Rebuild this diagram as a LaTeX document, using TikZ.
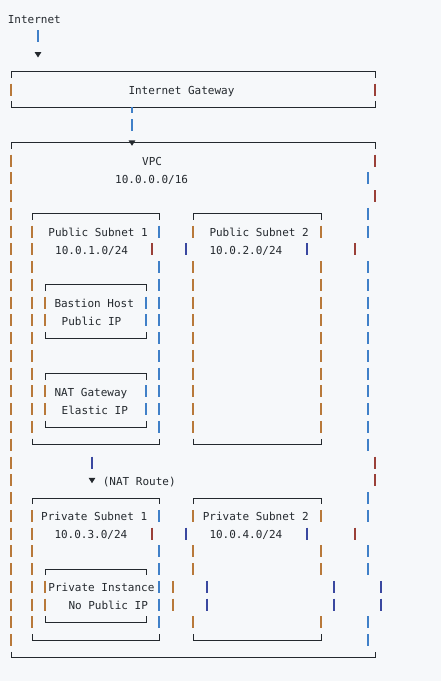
\documentclass[tikz,border=0pt]{standalone}
\usepackage{fontspec}
\setmonofont{DejaVu Sans Mono}
\usepackage{xcolor}
\usetikzlibrary{arrows.meta}

\definecolor{bgc}{HTML}{F6F8FA}
\definecolor{inkc}{HTML}{24292E}
\definecolor{barO}{HTML}{B8793A}
\definecolor{barB}{HTML}{4080C8}
\definecolor{barR}{HTML}{9A4038}
\definecolor{barN}{HTML}{3A48A0}

% row centre and text baseline of ascii line #1
\newcommand{\ry}[1]{18.5+17.76*(#1-1)}
\newcommand{\tb}[1]{18.5+17.76*(#1-1)+4.8}
% one side bar of a box on a given row
\newcommand{\barat}[3][barO]{\draw[seg,#1] (#2,{\ry{#3}-6}) -- (#2,{\ry{#3}+6});}
\newcommand{\boxtop}[3]{\draw[edge] (#1,{\ry{#3}+6}) -- (#1,{\ry{#3}}) -- (#2,{\ry{#3}}) -- (#2,{\ry{#3}+6});}
\newcommand{\boxbot}[3]{\draw[edge] (#1,{\ry{#3}-6}) -- (#1,{\ry{#3}}) -- (#2,{\ry{#3}}) -- (#2,{\ry{#3}-6});}

\begin{document}
\begin{tikzpicture}[x=1pt,y=-1pt,
    txt/.style={font=\ttfamily\fontsize{11}{13}\selectfont, text=inkc,
        anchor=base west, inner sep=0pt},
    edge/.style={draw=inkc, line width=0.9pt},
    seg/.style={line width=1.8pt},
    flow/.style={line width=1.6pt,
        -{Triangle[length=5.5pt,width=6.5pt,color=inkc]}}]
    \fill[bgc] (0,0) rectangle (441,681);
    \useasboundingbox (0,0) rectangle (441,681);

    % labels
    \node[txt] (internet) at (7.6,{\tb{1}}) {Internet};
    \node[txt] (gwlbl) at (128.3,{\tb{5}}) {Internet Gateway};
    \node[txt] (vpclbl) at (142,{\tb{9}}) {VPC};
    \node[txt] (vpccidr) at (115,{\tb{10}}) {10.0.0.0/16};
    \node[txt] (pub1lbl) at (48.3,{\tb{13}}) {Public Subnet 1};
    \node[txt] (pub1cidr) at (55,{\tb{14}}) {10.0.1.0/24};
    \node[txt] (pub2lbl) at (209.3,{\tb{13}}) {Public Subnet 2};
    \node[txt] (pub2cidr) at (209.3,{\tb{14}}) {10.0.2.0/24};
    \node[txt] (bastion) at (54.3,{\tb{17}}) {Bastion Host};
    \node[txt] (bastionip) at (61.5,{\tb{18}}) {Public IP};
    \node[txt] (natgw) at (54.3,{\tb{22}}) {NAT Gateway};
    \node[txt] (natip) at (61.5,{\tb{23}}) {Elastic IP};
    \node[txt] (natroute) at (102.6,{\tb{27}}) {(NAT Route)};
    \node[txt] (priv1lbl) at (41,{\tb{29}}) {Private Subnet 1};
    \node[txt] (priv1cidr) at (54.3,{\tb{30}}) {10.0.3.0/24};
    \node[txt] (priv2lbl) at (202.6,{\tb{29}}) {Private Subnet 2};
    \node[txt] (priv2cidr) at (209.3,{\tb{30}}) {10.0.4.0/24};
    \node[txt] (instance) at (48.3,{\tb{33}}) {Private Instance};
    \node[txt] (instanceip) at (68.3,{\tb{34}}) {No Public IP};

    % box tops and bottoms
    \boxtop{11}{375}{4}      \boxbot{11}{375}{6}
    \boxtop{11}{375}{8}      \boxbot{11}{375}{37}
    \boxtop{32}{159}{12}     \boxbot{32}{159}{25}
    \boxtop{193}{321}{12}    \boxbot{193}{321}{25}
    \boxtop{45}{146}{16}     \boxbot{45}{146}{19}
    \boxtop{45}{146}{21}     \boxbot{45}{146}{24}
    \boxtop{32}{159}{28}     \boxbot{32}{159}{36}
    \boxtop{193}{321}{28}    \boxbot{193}{321}{36}
    \boxtop{45}{146}{32}     \boxbot{45}{146}{35}

    % gateway sides
    \barat{11}{5}
    \barat[barR]{375}{5}

    % vpc sides
    \foreach \n in {9,...,36} {\barat{11}{\n}}
    \foreach \n in {9,11,26,27} {\barat[barR]{375}{\n}}
    \foreach \n in {10,12,13,35,36,28,29,31,32} {\barat[barB]{368}{\n}}
    \foreach \n in {15,...,25} {\barat[barB]{368}{\n}}
    \foreach \n in {14,30} {\barat[barR]{355}{\n}}
    \foreach \n in {33,34} {\barat[barN]{381}{\n}}

    % subnet sides
    \foreach \n in {13,...,24} {\barat{32}{\n}}
    \foreach \n in {29,...,35} {\barat{32}{\n}}
    \foreach \n in {13,15,16,17,18,19,20,21,22,23,24,29,31,32,35} {
        \barat[barB]{159}{\n}
        \barat{193}{\n}
        \barat{321}{\n}
    }
    \foreach \n in {14,30} {
        \barat[barR]{152}{\n}
        \barat[barN]{186}{\n}
        \barat[barN]{307}{\n}
    }
    \foreach \n in {33,34} {
        \barat{173}{\n}
        \barat[barN]{207}{\n}
        \barat[barN]{334}{\n}
    }

    % host box sides
    \foreach \n in {17,18,22,23,33,34} {\barat{45}{\n}}
    \foreach \n in {17,18,22,23} {\barat[barB]{146}{\n}}
    \foreach \n in {33,34} {\barat[barB]{159}{\n}}

    % traffic arrows
    \coordinate (inetout) at (38,{\ry{2}-6});
    \coordinate (gwin) at (38,{\ry{3}+3.5});
    \coordinate (gwout) at (132,{\ry{6}});
    \coordinate (vpcin) at (132,{\ry{8}+3});
    \coordinate (natout) at (92,{\ry{26}-6});
    \coordinate (privin) at (92,{\ry{27}+3});
    \draw[flow,barB,dash pattern=on 12pt off 40pt] (inetout) -- (gwin);
    \draw[flow,barB,dash pattern=on 6pt off 6pt on 12pt off 40pt] (gwout) -- (vpcin);
    \draw[flow,barN,dash pattern=on 12pt off 40pt] (natout) -- (privin);

\end{tikzpicture}
\end{document}
